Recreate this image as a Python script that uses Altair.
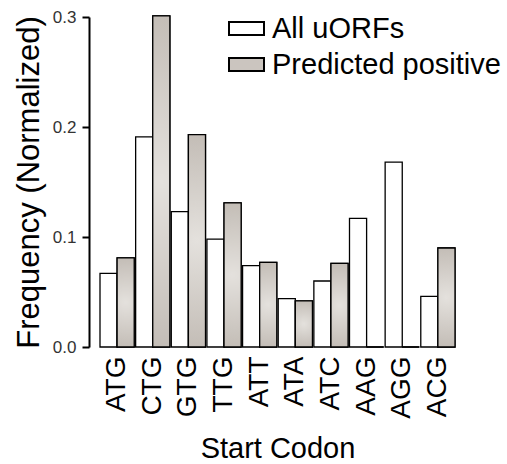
import altair as alt
import pandas as pd

codons = ["ATG", "CTG", "GTG", "TTG", "ATT", "ATA", "ATC", "AAG", "AGG", "ACG"]
all_uorfs = [0.067, 0.191, 0.123, 0.098, 0.074, 0.044, 0.060, 0.117, 0.168, 0.046]
predicted = [0.081, 0.301, 0.193, 0.131, 0.077, 0.042, 0.076, 0.0, 0.0, 0.090]
series_names = ["All uORFs", "Predicted positive"]

rows = []
for c, a, p in zip(codons, all_uorfs, predicted):
    rows.append({"codon": c, "series": series_names[0], "value": a})
    rows.append({"codon": c, "series": series_names[1], "value": p})
df = pd.DataFrame(rows)

FONT = "Liberation Sans"

gradient = {
    "gradient": "radial",
    "x1": 0.5, "y1": 0.5, "r1": 0,
    "x2": 0.5, "y2": 0.5, "r2": 0.75,
    "stops": [
        {"offset": 0, "color": "#e4e1dd"},
        {"offset": 1, "color": "#b3aba3"},
    ],
}

x = alt.X("codon:N", sort=codons, title="Start Codon",
          scale=alt.Scale(paddingInner=0.04, paddingOuter=0.0),
          axis=alt.Axis(labelAngle=270, labelFontSize=28, labelFont=FONT,
                        labelColor="black", ticks=False, domain=False,
                        labelPadding=9, titleFontSize=29, titleFont=FONT,
                        titleFontWeight="normal", titlePadding=16))
y = alt.Y("value:Q", title="Frequency (Normalized)",
          scale=alt.Scale(domain=[0, 0.3], nice=False),
          axis=alt.Axis(values=[0, 0.1, 0.2, 0.3], format=".1f", grid=False,
                        offset=11, tickSize=7, tickColor="black",
                        domainColor="black", domainWidth=2, tickWidth=2,
                        labelFontSize=17, labelFont=FONT, labelColor="#333333",
                        labelPadding=6,
                        titleFontSize=31, titleFont=FONT, titleFontWeight="normal",
                        titlePadding=7))
xo = alt.XOffset("series:N", sort=series_names)

base = alt.Chart(df).mark_bar(stroke="black", strokeWidth=1.3).encode(
    x=x, y=y, xOffset=xo,
    fill=alt.Fill("series:N", sort=series_names,
                  scale=alt.Scale(domain=series_names, range=["white", "#cbc5bf"]),
                  legend=alt.Legend(title=None, orient="none", legendX=128, legendY=-7,
                                    symbolType="M-1,-0.37L1,-0.37L1,0.37L-1,0.37Z",
                                    symbolSize=1225, symbolStrokeColor="black",
                                    symbolStrokeWidth=2, labelFontSize=29,
                                    labelFont=FONT, labelColor="black",
                                    rowPadding=2, labelOffset=7, labelLimit=400)),
)

overlay = alt.Chart(df).transform_filter(
    alt.datum.series == series_names[1]
).mark_bar(fill=gradient, stroke="black", strokeWidth=1.3).encode(
    x=x, y=y, xOffset=xo,
)

chart = alt.layer(base, overlay).properties(
    width=355, height=330,
    padding={"left": 13, "top": 8, "right": 5, "bottom": 5},
).configure_view(stroke=None)

chart.save("out.html", embed_options={"renderer": "svg", "actions": False})
